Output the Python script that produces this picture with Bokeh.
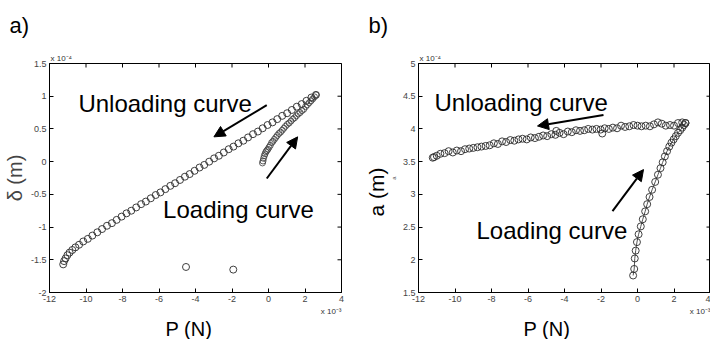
import math
from bokeh.plotting import figure
from bokeh.layouts import row
from bokeh.models import Label, Arrow, NormalHead, FixedTicker, Range1d, Title
from bokeh.embed import file_html
from bokeh.resources import INLINE

# ---------------- data (P in 1e-3 N, delta and a in 1e-4 m) ----------------
x_ticks = [-12, -10, -8, -6, -4, -2, 0, 2, 4]
x_tick_labels = ["-12", "-10", "-8", "-6", "-4", "-2", "0", "2", "4"]
ya_ticks = [-2, -1.5, -1, -0.5, 0, 0.5, 1, 1.5]
ya_tick_labels = ["-2", "-1.5", "-1", "-0.5", "0", "0.5", "1", "1.5"]
yb_ticks = [1.5, 2, 2.5, 3, 3.5, 4, 4.5, 5]
yb_tick_labels = ["1.5", "2", "2.5", "3", "3.5", "4", "4.5", "5"]

a_unload_P = [2.60, 2.35, 2.08, 1.82, 1.55, 1.28, 1.02, 0.75, 0.48, 0.22, -0.05, -0.32,
              -0.58, -0.85, -1.12, -1.38, -1.65, -1.92, -2.18, -2.45, -2.72, -2.98, -3.25,
              -3.52, -3.78, -4.05, -4.32, -4.58, -4.85, -5.12, -5.38, -5.65, -5.92, -6.18,
              -6.45, -6.72, -6.98, -7.25, -7.52, -7.78, -8.05, -8.32, -8.58, -8.85, -9.12,
              -9.38, -9.65, -9.90, -10.15, -10.38, -10.58, -10.75, -10.90, -11.02, -11.12,
              -11.20, -11.25]
a_unload_d = [1.02, 0.98, 0.93, 0.88, 0.84, 0.79, 0.74, 0.70, 0.65, 0.60, 0.56, 0.51,
              0.46, 0.42, 0.37, 0.32, 0.28, 0.23, 0.19, 0.14, 0.09, 0.05, 0.00,
              -0.05, -0.09, -0.14, -0.19, -0.23, -0.28, -0.33, -0.37, -0.42, -0.47, -0.51,
              -0.56, -0.61, -0.65, -0.70, -0.75, -0.79, -0.84, -0.89, -0.94, -0.98, -1.03,
              -1.08, -1.13, -1.18, -1.22, -1.27, -1.31, -1.35, -1.39, -1.43, -1.48,
              -1.52, -1.57]
a_load_P = [-0.33, -0.30, -0.27, -0.23, -0.19, -0.14, -0.09, -0.03, 0.03, 0.10, 0.17, 0.24,
            0.32, 0.40, 0.48, 0.57, 0.66, 0.75, 0.84, 0.93, 1.03, 1.13, 1.23, 1.33, 1.43,
            1.53, 1.63, 1.73, 1.83, 1.93, 2.03, 2.13, 2.23, 2.33, 2.43, 2.52, 2.60]
a_load_d = [-0.02, 0.01, 0.05, 0.09, 0.12, 0.15, 0.17, 0.19, 0.22, 0.25, 0.29, 0.31,
            0.34, 0.37, 0.40, 0.43, 0.45, 0.48, 0.51, 0.54, 0.57, 0.59, 0.62, 0.65, 0.67,
            0.70, 0.73, 0.75, 0.78, 0.80, 0.84, 0.87, 0.90, 0.93, 0.96, 0.99, 1.02]
a_outlier_P = [-4.52, -1.93]
a_outlier_d = [-1.61, -1.65]

b_unload_P = [2.63, 2.45, 2.22, 2.00, 1.78, 1.55, 1.33, 1.12, 0.90, 0.68, 0.45, 0.22, 0.00,
              -0.22, -0.45, -0.68, -0.90, -1.12, -1.35, -1.57, -1.80, -1.93, -2.02, -2.25,
              -2.47, -2.70, -2.92, -3.15, -3.37, -3.60, -3.82, -4.05, -4.27, -4.45, -4.50,
              -4.72, -4.95, -5.17, -5.40, -5.62, -5.85, -6.07, -6.30, -6.52, -6.75, -6.97,
              -7.20, -7.42, -7.65, -7.87, -8.10, -8.32, -8.55, -8.77, -9.00, -9.22, -9.45,
              -9.67, -9.90, -10.12, -10.35, -10.57, -10.80, -11.00, -11.15, -11.22]
b_unload_a = [4.09, 4.10, 4.09, 4.05, 4.06, 4.05, 4.08, 4.10, 4.07, 4.04, 4.05, 4.04, 4.05,
              4.06, 4.04, 4.03, 4.05, 4.01, 4.02, 4.00, 4.01, 3.93, 3.99, 4.00,
              3.99, 4.00, 3.98, 3.97, 3.98, 3.95, 3.96, 3.92, 3.94, 3.97, 3.91,
              3.92, 3.89, 3.90, 3.88, 3.86, 3.87, 3.84, 3.85, 3.84, 3.82, 3.83,
              3.80, 3.81, 3.77, 3.78, 3.75, 3.74, 3.73, 3.72, 3.71, 3.70, 3.69,
              3.66, 3.67, 3.64, 3.66, 3.63, 3.62, 3.59, 3.57, 3.56]
b_load_P = [-0.24, -0.18, -0.15, -0.10, -0.03, 0.06, 0.18, 0.29, 0.42, 0.53, 0.66, 0.80,
            0.97, 1.12, 1.26, 1.38, 1.50, 1.62, 1.74, 1.86, 1.98, 2.10, 2.22, 2.34, 2.45,
            2.55, 2.63]
b_load_a = [1.76, 1.86, 2.02, 2.14, 2.27, 2.39, 2.51, 2.62, 2.74, 2.85, 2.96, 3.07,
            3.19, 3.30, 3.40, 3.49, 3.58, 3.66, 3.73, 3.79, 3.84, 3.89, 3.94, 3.98, 4.02,
            4.06, 4.09]

FONT = "Liberation Sans"
TOP, BOTTOM = 63, 294
H = 339


def title(p, side, text, size, align, offset=0, standoff=0, color="black",
          valign="bottom"):
    p.add_layout(Title(text=text, align=align, offset=offset, standoff=standoff,
                       vertical_align=valign,
                       text_font=FONT, text_font_size=size, text_font_style="normal",
                       text_color=color), side)


def make_fig(width, left, right, ylo, yhi, yticks, ylabels, panel_tag, tag_offset,
             xlabel_offset):
    p = figure(width=width, height=H, x_range=Range1d(-12, 4), y_range=Range1d(ylo, yhi),
               output_backend="svg", toolbar_location=None,
               min_border_left=left, min_border_right=right,
               min_border_top=TOP, min_border_bottom=H - BOTTOM)
    p.grid.visible = False
    p.outline_line_color = "black"
    p.outline_line_width = 1
    p.background_fill_color = "white"
    p.border_fill_color = "white"
    p.xaxis.ticker = FixedTicker(ticks=x_ticks)
    p.yaxis.ticker = FixedTicker(ticks=yticks)
    p.xaxis.major_label_overrides = dict(zip(x_ticks, x_tick_labels))
    p.yaxis.major_label_overrides = dict(zip(yticks, ylabels))
    for ax in [p.xaxis[0], p.yaxis[0]]:
        ax.major_tick_in = 4
        ax.major_tick_out = 0
        ax.minor_tick_line_color = None
        ax.axis_line_color = "black"
        ax.major_tick_line_color = "black"
        ax.major_label_text_font = FONT
        ax.major_label_text_font_size = "9px"
        ax.major_label_text_color = "#444444"
        ax.major_label_standoff = 3
    # inward ticks on the top and right edges of the box (half of each dash is clipped)
    p.scatter(x_ticks, [yhi] * len(x_ticks), marker="dash", angle=math.pi / 2, size=8,
              line_color="black", line_width=1)
    p.scatter([4] * len(yticks), yticks, marker="dash", size=8,
              line_color="black", line_width=1)
    # texts around the box
    title(p, "above", "x 10\u207b\u2074", "8px", "left", offset=1, standoff=2, color="#333333")
    title(p, "above", panel_tag, "22px", "left", offset=tag_offset, standoff=22,
          valign="top")
    title(p, "below", "x 10\u207b\u00b3", "8px", "right", offset=0, standoff=0, color="#333333")
    title(p, "below", "P (N)", "20px", "left", offset=xlabel_offset, standoff=0)
    return p


def lab(p, x, y, text, size):
    p.add_layout(Label(x=x, y=y, text=text, text_font=FONT, text_font_size=size,
                       text_align="left", text_baseline="alphabetic", text_color="black"))


def arrow(p, x0, y0, x1, y1):
    p.add_layout(Arrow(end=NormalHead(size=11, fill_color="black", line_color="black"),
                       x_start=x0, y_start=y0, x_end=x1, y_end=y1,
                       line_width=2, line_color="black"))


mk = dict(marker="circle", size=7, fill_color=None, line_color="#2a2a2a", line_width=0.9)

# ---------------- panel a ----------------
p1 = make_fig(355, 48, 14, -2, 1.5, ya_ticks, ya_tick_labels, "a)", -40, 116)
p1.yaxis[0].axis_label = "\u03b4 (m)"
p1.yaxis[0].axis_label_text_font = FONT
p1.yaxis[0].axis_label_text_font_size = "20px"
p1.yaxis[0].axis_label_text_font_style = "normal"
p1.yaxis[0].axis_label_standoff = 2


def X1(px):
    return -12 + (px - 48) * 16 / 293


def Y1(py):
    return 1.5 - (py - TOP) * 3.5 / (BOTTOM - TOP)


p1.scatter(a_unload_P, a_unload_d, **mk)
p1.scatter(a_load_P, a_load_d, marker="circle", size=6, fill_color=None,
           line_color="#3a3a3a", line_width=0.8)
p1.scatter(a_outlier_P, a_outlier_d, **mk)

lab(p1, X1(77), Y1(103), "Unloading curve", "24px")
lab(p1, X1(162), Y1(210), "Loading curve", "24px")
arrow(p1, X1(266), Y1(105), X1(213), Y1(137))
arrow(p1, X1(266), Y1(179), X1(297), Y1(137))

# ---------------- panel b ----------------
p2 = make_fig(355, 63, 0, 1.5, 5, yb_ticks, yb_tick_labels, "b)", -50, 105)
# the tiny stray "a" next to the axis label is the axis label itself; "a (m)" is a side title
p2.yaxis[0].axis_label = "a"
p2.yaxis[0].axis_label_text_font = FONT
p2.yaxis[0].axis_label_text_font_size = "6px"
p2.yaxis[0].axis_label_text_font_style = "normal"
p2.yaxis[0].axis_label_text_color = "#555555"
p2.yaxis[0].axis_label_standoff = 3
title(p2, "left", "a (m)", "21px", "left", offset=76, standoff=0)


def X2(px):
    return -12 + (px - 418) * 16 / 292


def Y2(py):
    return 5 - (py - TOP) * 3.5 / (BOTTOM - TOP)


p2.scatter(b_unload_P, b_unload_a, **mk)
p2.line(b_load_P, b_load_a, line_color="#555555", line_width=1)
p2.scatter(b_load_P, b_load_a, **mk)

lab(p2, X2(434), Y2(102), "Unloading curve", "24px")
lab(p2, X2(476), Y2(231), "Loading curve", "24px")
arrow(p2, X2(603), Y2(115), X2(537), Y2(126))
arrow(p2, X2(612), Y2(212), X2(643), Y2(170))

layout = row(p1, p2)
open("out.html", "w").write(file_html(layout, INLINE))
